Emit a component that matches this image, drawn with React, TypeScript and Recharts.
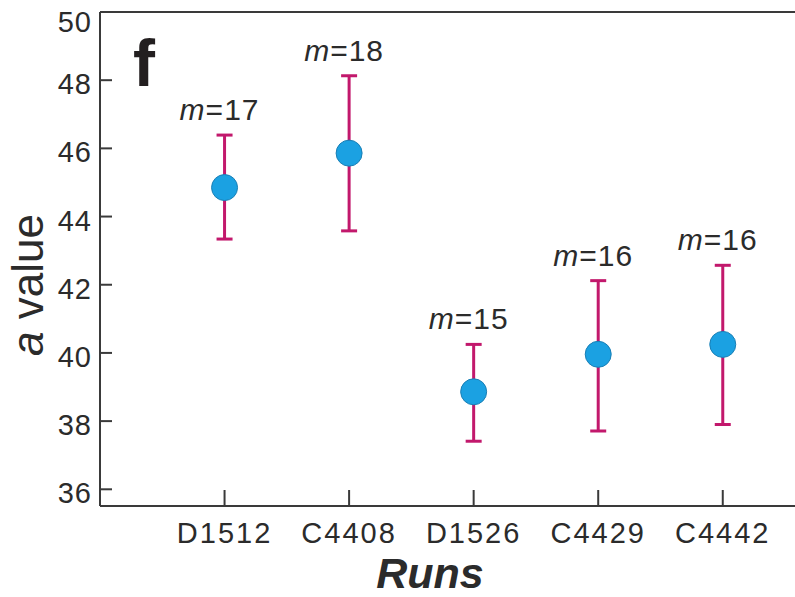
import { ScatterChart, Scatter, XAxis, YAxis, ErrorBar, ReferenceLine } from 'recharts';

const runs = ['D1512', 'C4408', 'D1526', 'C4429', 'C4442'];
const aMean = [44.85, 45.86, 38.86, 39.96, 40.25];
const aUpper = [46.39, 48.13, 40.25, 42.12, 42.57];
const aLower = [43.34, 43.58, 37.41, 37.71, 37.9];
const mCount = [17, 18, 15, 16, 16];
const yTicks = [36, 38, 40, 42, 44, 46, 48, 50];

const FONT = '"Liberation Sans", Arial, sans-serif';
const AXIS = '#3a3a3a';
const TEXT = '#2b2b2b';

const points = runs.map((run, i) => ({
  idx: i + 1,
  run,
  a: aMean[i],
  err: [aMean[i] - aLower[i], aUpper[i] - aMean[i]],
}));

// label anchors sit on the top of each error bar
const labels = runs.map((run, i) => ({ idx: i + 1, run, a: aUpper[i], m: mCount[i] }));

function YTick(props: any) {
  const { x, y, payload } = props;
  const base = Math.max(y + 14, 32);
  return (
    <g>
      <line x1={x} x2={x + 12} y1={y} y2={y} stroke={AXIS} strokeWidth={2} />
      <text x={x - 8} y={base} textAnchor="end" fontSize={29} fontFamily={FONT} fill={TEXT} letterSpacing={1}>
        {payload.value}
      </text>
    </g>
  );
}

function XTick(props: any) {
  const { x, y, payload } = props;
  const name = runs[payload.value - 1] ?? '';
  return (
    <g>
      <line x1={x} x2={x} y1={y} y2={y - 16} stroke={AXIS} strokeWidth={2} />
      <text x={x} y={y + 37} textAnchor="middle" fontSize={29} fontFamily={FONT} fill={TEXT} letterSpacing={2}>
        {name}
      </text>
    </g>
  );
}

function Dot(props: any) {
  return <circle cx={props.cx} cy={props.cy} r={13} fill="#1ba1e2" stroke="#1a7fb5" strokeWidth={1} />;
}

function MLabel(props: any) {
  const { cx, cy, payload } = props;
  return (
    <text x={cx - 5} y={cy - 15} textAnchor="middle" fontSize={30} fontFamily={FONT} fill={TEXT} letterSpacing={1}>
      <tspan fontStyle="italic">m</tspan>={payload.m}
    </text>
  );
}

export default function App() {
  return (
    <div style={{ position: 'absolute', left: 0, top: 0, width: 795, height: 597, background: '#fff' }}>
      <ScatterChart width={795} height={597} margin={{ top: 12, right: 0, left: 40, bottom: 0 }}>
        <XAxis
          type="number"
          dataKey="idx"
          domain={[0, 5.58]}
          ticks={[1, 2, 3, 4, 5]}
          height={91}
          tickSize={0}
          tickMargin={0}
          tickLine={false}
          tick={<XTick />}
          axisLine={{ stroke: AXIS, strokeWidth: 2 }}
          allowDataOverflow
        />
        <YAxis
          type="number"
          dataKey="a"
          domain={[35.51, 50]}
          ticks={yTicks}
          width={60}
          tickSize={0}
          tickMargin={0}
          tickLine={false}
          tick={<YTick />}
          axisLine={{ stroke: AXIS, strokeWidth: 2 }}
          allowDataOverflow
        />
        <ReferenceLine y={50} stroke={AXIS} strokeWidth={2} />
        <Scatter data={points} shape={<Dot />} isAnimationActive={false}>
          <ErrorBar dataKey="err" direction="y" width={8} stroke="#c2186c" strokeWidth={3} />
        </Scatter>
        <Scatter data={labels} shape={<MLabel />} isAnimationActive={false} />
        <text x={133} y={86} fontSize={66} fontWeight="bold" fontFamily={FONT} fill="#231f20">
          f
        </text>
        <text
          x={43}
          y={285}
          transform="rotate(-90 43 285)"
          textAnchor="middle"
          fontSize={44}
          fontFamily={FONT}
          fill={TEXT}
        >
          <tspan fontStyle="italic">a</tspan> value
        </text>
        <text x={430} y={588} textAnchor="middle" fontSize={43} fontWeight="bold" fontStyle="italic" fontFamily={FONT} fill={TEXT}>
          Runs
        </text>
      </ScatterChart>
    </div>
  );
}
